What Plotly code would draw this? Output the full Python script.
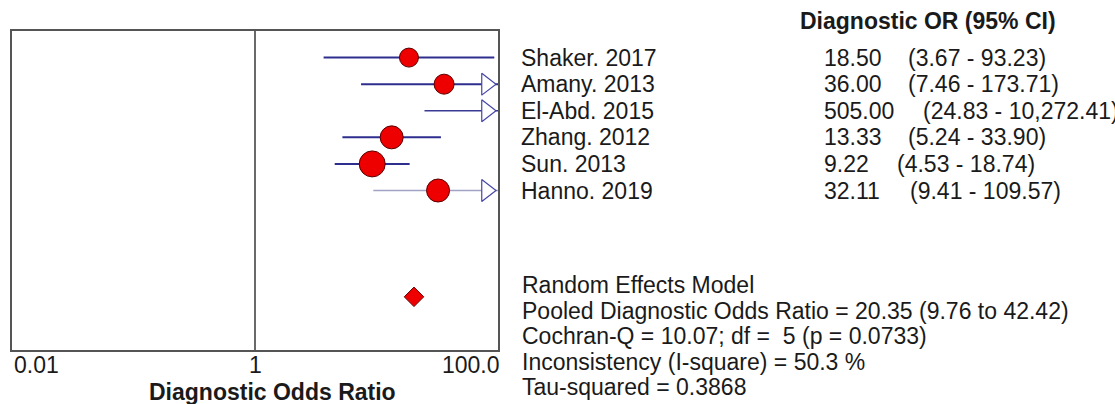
import math
import plotly.graph_objects as go

# ---------------- data ----------------
studies = ["Shaker. 2017", "Amany. 2013", "El-Abd. 2015", "Zhang. 2012", "Sun. 2013", "Hanno. 2019"]
dor = [18.50, 36.00, 505.00, 13.33, 9.22, 32.11]
ci_low = [3.67, 7.46, 24.83, 5.24, 4.53, 9.41]
ci_high = [93.23, 173.71, 10272.41, 33.90, 18.74, 109.57]
pooled_dor = 20.35
pooled_low = 9.76
pooled_high = 42.42
tick_vals = [0.01, 1, 100]
tick_text = ["0.01", "1", "100.0"]
summary_lines = [
    "Random Effects Model",
    "Pooled Diagnostic Odds Ratio = 20.35 (9.76 to 42.42)",
    "Cochran-Q = 10.07; df =  5 (p = 0.0733)",
    "Inconsistency (I-square) = 50.3 %",
    "Tau-squared = 0.3868",
]
header = "Diagnostic OR (95% CI)"
x_title = "Diagnostic Odds Ratio"

# ---------------- style ----------------
W, H = 1115, 404
L, R, T, B = 12, 498, 31, 350          # plot box in pixels
FONT = "Arial, Liberation Sans, sans-serif"
FS = 23
TXT = "#1a1a1a"
marker_px = [19, 20, 20, 23, 26, 23]
line_colors = ["#2e2e8f", "#2e2e8f", "#3a3a96", "#2e2e8f", "#2e2e8f", "#a2a2c4"]
line_widths = [2, 2, 1.3, 2, 2, 1.6]
ci_text_px = [906, 906, 921, 906, 895, 908]
rows = list(range(len(studies)))
pooled_row = 9
YR = [11, -1]
XR = [-2, 2]


def px_x(p):
    return (p - L) / (R - L)


def px_y(p):
    return 1 - (p - T) / (B - T)


fig = go.Figure()

# CI lines
for i in rows:
    fig.add_trace(go.Scatter(
        x=[ci_low[i], ci_high[i]], y=[rows[i], rows[i]], mode="lines",
        line=dict(color=line_colors[i], width=line_widths[i]),
        hoverinfo="skip", showlegend=False))

# arrows for CIs extending beyond the axis
dec_per_px = (XR[1] - XR[0]) / (R - L)
arrow_x = 10 ** (XR[1] - 11.5 * dec_per_px)
arr_rows = [rows[i] for i in rows if ci_high[i] > 10 ** XR[1]]
fig.add_trace(go.Scatter(
    x=[arrow_x] * len(arr_rows), y=arr_rows, mode="markers",
    marker=dict(symbol="triangle-right", size=19, color="white", opacity=1,
                line=dict(color="#4646a6", width=1.2)),
    hoverinfo="skip", showlegend=False))

# point estimates
fig.add_trace(go.Scatter(
    x=dor, y=rows, mode="markers",
    marker=dict(symbol="circle", size=marker_px, color="#ee0000", opacity=1,
                line=dict(color="#5a0000", width=1)),
    hoverinfo="skip", showlegend=False))

# pooled diamond
fig.add_trace(go.Scatter(
    x=[pooled_dor], y=[pooled_row], mode="markers",
    marker=dict(symbol="diamond", size=15, color="#ee0000", opacity=1,
                line=dict(color="#6a0000", width=1)),
    hoverinfo="skip", showlegend=False))

# reference line at 1
fig.add_shape(type="line", x0=1, x1=1, y0=0, y1=1, xref="x", yref="paper",
              line=dict(color="#444444", width=1.6))

ann = []
# study labels, values, CIs
for i in rows:
    ann.append(dict(x=px_x(519), y=rows[i], xref="paper", yref="y", text=studies[i],
                    xanchor="left", yanchor="middle", showarrow=False,
                    font=dict(family=FONT, size=FS, color=TXT)))
    ann.append(dict(x=px_x(822), y=rows[i], xref="paper", yref="y", text=f"{dor[i]:.2f}",
                    xanchor="left", yanchor="middle", showarrow=False,
                    font=dict(family=FONT, size=FS, color=TXT)))
    ann.append(dict(x=px_x(ci_text_px[i]), y=rows[i], xref="paper", yref="y",
                    text=f"({ci_low[i]:,.2f} - {ci_high[i]:,.2f})",
                    xanchor="left", yanchor="middle", showarrow=False,
                    font=dict(family=FONT, size=FS, color=TXT)))

# header
ann.append(dict(x=px_x(798), y=px_y(21), xref="paper", yref="paper", text=f"<b>{header}</b>",
                xanchor="left", yanchor="middle", showarrow=False,
                font=dict(family=FONT, size=FS, color=TXT)))

# summary text
for k, s in enumerate(summary_lines):
    ann.append(dict(x=px_x(520), y=px_y(285 + 25.5 * k), xref="paper", yref="paper", text=s,
                    xanchor="left", yanchor="middle", showarrow=False,
                    font=dict(family=FONT, size=FS, color=TXT)))

# tick labels (annotation x on a log axis is given in log10 units)
anchors = ["left", "center", "right"]
tick_off = [0, 0, 4]
for v, t, a, o in zip(tick_vals, tick_text, anchors, tick_off):
    ann.append(dict(x=math.log10(v), y=px_y(365), xref="x", yref="paper", text=t,
                    xanchor=a, xshift=o, yanchor="middle", showarrow=False,
                    font=dict(family=FONT, size=FS, color=TXT)))

# axis title
ann.append(dict(x=px_x(272), y=px_y(392), xref="paper", yref="paper", text=f"<b>{x_title}</b>",
                xanchor="center", yanchor="middle", showarrow=False,
                font=dict(family=FONT, size=FS, color=TXT)))

fig.update_layout(
    width=W, height=H,
    margin=dict(l=L, r=W - R, t=T, b=H - B, pad=0),
    paper_bgcolor="white", plot_bgcolor="white",
    annotations=ann,
    xaxis=dict(type="log", range=XR, showticklabels=False, ticks="", showgrid=False,
               zeroline=False, showline=True, mirror=True, linecolor="#555555", linewidth=2),
    yaxis=dict(range=YR, showticklabels=False, ticks="", showgrid=False,
               zeroline=False, showline=True, mirror=True, linecolor="#555555", linewidth=2),
)

fig.write_html("out.html", config={"displayModeBar": False},
               post_script="document.body.style.margin='0';document.body.style.overflow='hidden';")
